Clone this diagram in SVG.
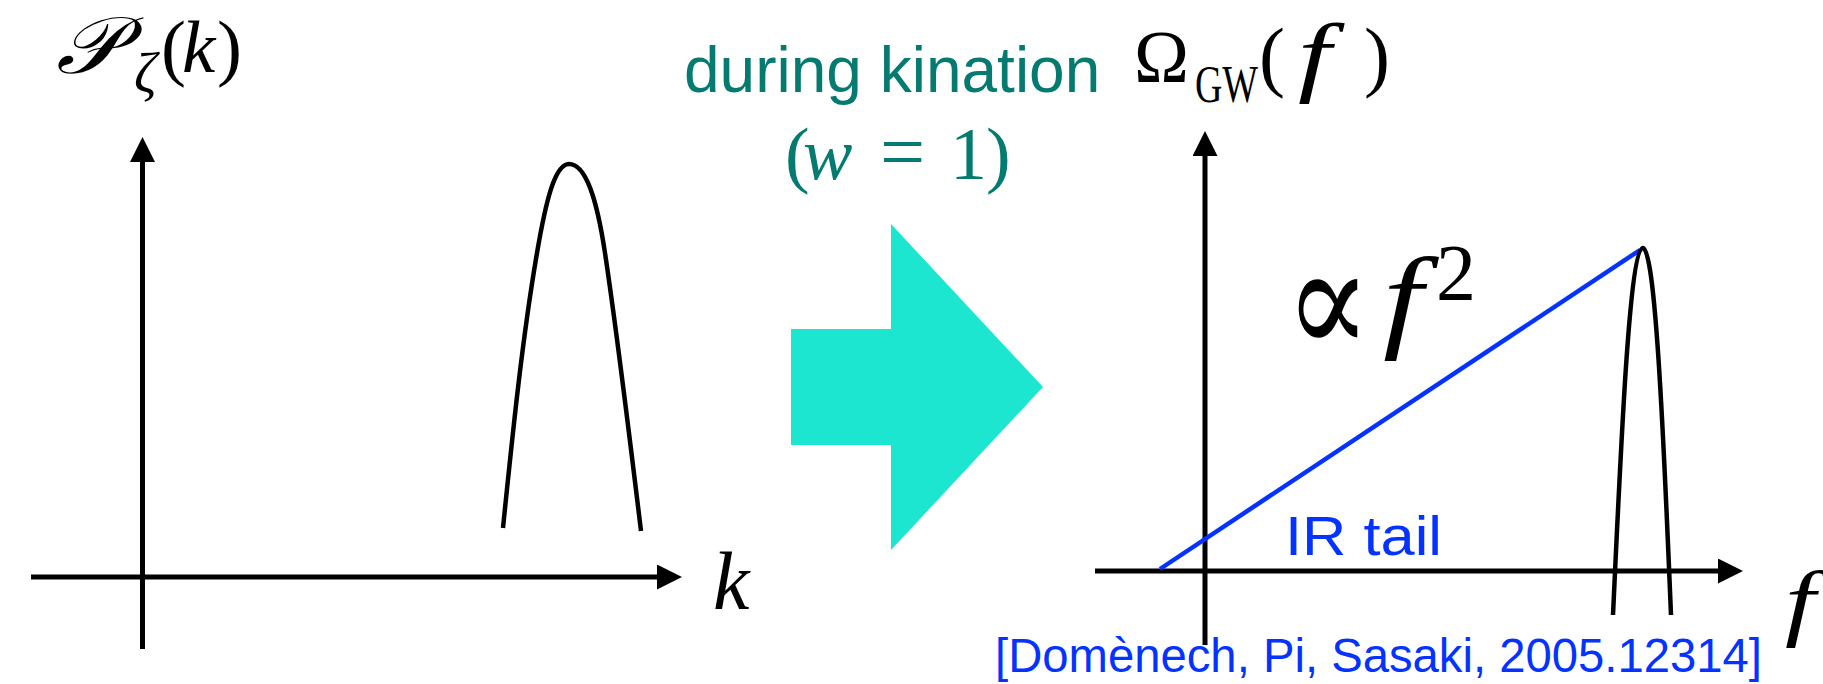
<svg xmlns="http://www.w3.org/2000/svg" width="1823" height="684" viewBox="0 0 1823 684">
  <defs>
    <marker id="ah" markerUnits="userSpaceOnUse" markerWidth="26" markerHeight="26" refX="0" refY="12.5" orient="auto">
      <path d="M0,0 L25,12.5 L0,25 Z" fill="#000"/>
    </marker>
    <style>
      .axis { stroke:#000; stroke-width:5; fill:none; marker-end:url(#ah); }
      .curve { stroke:#000; stroke-width:4.5; fill:none; }
      .math { font-family:"Liberation Serif","DejaVu Serif",serif; fill:#000; }
      .it { font-style:italic; }
      .teal { fill:#047a70; }
      .blue { fill:#0433ff; }
      .sans { font-family:"Liberation Sans",Arial,sans-serif; }
    </style>
  </defs>
  <rect width="1823" height="684" fill="#fff"/>

  <g id="connectors">
    <line class="axis" x1="31" y1="577" x2="657" y2="577"/>
    <line class="axis" x1="142.5" y1="649" x2="142.5" y2="162"/>
    <line class="axis" x1="1095" y1="571" x2="1718" y2="571"/>
    <line class="axis" x1="1205" y1="645" x2="1205" y2="156"/>
  </g>

  <g id="left-plot">
    <text class="math" transform="translate(56,73) scale(1.12,1)" font-size="80" font-style="italic">𝒫</text>
    <text class="math it" x="134" y="92" font-size="56">ζ</text>
    <text class="math" y="72" font-size="75"><tspan x="161">(</tspan><tspan x="182" font-style="italic">k</tspan><tspan x="217">)</tspan></text>
    <text class="math it" x="713" y="609" font-size="82">k</text>
    <path class="curve" d="M503,528 C512,440 522,340 537,253 C546,200 555,164 569,164 C586,164 597,200 605,253 C616,326 630,440 641,531"/>
  </g>

  <g id="transition">
    <polygon points="791,329 891,329 891,224 1043,387 891,550 891,445 791,445" fill="#1ce6d0"/>
    <text class="sans teal" x="684" y="92" font-size="64">during kination</text>
    <text class="math teal" y="179" font-size="74"><tspan x="785">(</tspan><tspan x="803" font-style="italic">w</tspan><tspan x="880" font-size="80">=</tspan><tspan x="950">1</tspan><tspan x="986">)</tspan></text>
  </g>

  <g id="right-plot">
    <text class="math" x="1134" y="82" font-size="74">Ω</text>
    <text class="math" x="1195" y="102" font-size="52" textLength="63" lengthAdjust="spacingAndGlyphs">GW</text>
    <text class="math" y="82" font-size="78"><tspan x="1259">(</tspan><tspan x="1364">)</tspan></text>
    <text class="math it" transform="translate(1298,85) scale(1.35,1)" font-size="88">f</text>
    <text class="math it" transform="translate(1785,630) scale(1.3,1)" font-size="84">f</text>
    <line x1="1160" y1="569" x2="1640" y2="250" stroke="#0433ff" stroke-width="4.5"/>
    <path class="curve" d="M1613,615 C1622,420 1630,250 1643,248 C1655,250 1663,420 1671,615"/>
    <text class="math" transform="translate(1285,354) scale(1,1.2)" font-size="127">∝</text>
    <text class="math it" transform="translate(1383,337) scale(1.25,1)" font-size="114">f</text>
    <text class="math" x="1436" y="300" font-size="80">2</text>
    <text class="sans blue" x="1285" y="555" font-size="55" textLength="157" lengthAdjust="spacingAndGlyphs">IR tail</text>
    <text class="sans blue" x="995" y="672" font-size="48" textLength="767" lengthAdjust="spacingAndGlyphs">[Domènech, Pi, Sasaki, 2005.12314]</text>
  </g>
</svg>
